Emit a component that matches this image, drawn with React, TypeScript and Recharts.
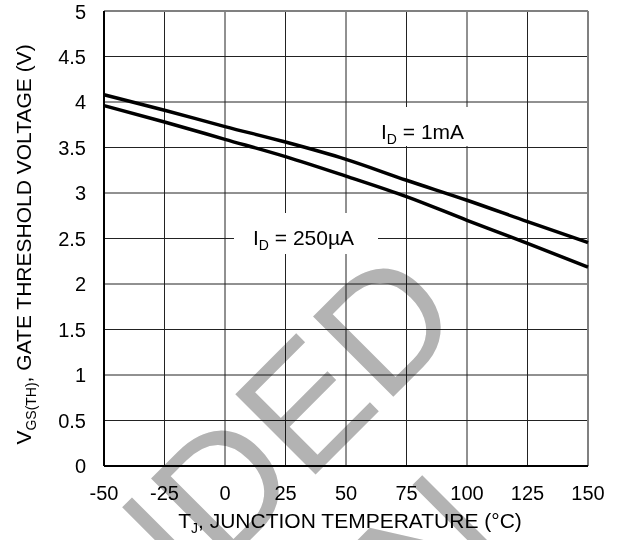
import { LineChart, Line, XAxis, YAxis, CartesianGrid, ReferenceLine } from "recharts";

// junction temperature (°C) and gate threshold voltage (V)
const temps = [-50, -25, 0, 25, 50, 75, 100, 125, 150];
const vth1mA = [4.08, 3.91, 3.73, 3.56, 3.37, 3.14, 2.92, 2.685, 2.455];
const vth250uA = [3.96, 3.78, 3.59, 3.4, 3.185, 2.96, 2.7, 2.447, 2.185];

const xTicks = [-50, -25, 0, 25, 50, 75, 100, 125, 150];
const yTicks = [0, 0.5, 1, 1.5, 2, 2.5, 3, 3.5, 4, 4.5, 5];

const data = temps.map((t, i) => ({ t, a: vth1mA[i], b: vth250uA[i] }));

const FONT = "'Liberation Sans', Arial, Helvetica, sans-serif";
const tickStyle = { fill: "#000", fontSize: 20, fontFamily: FONT };

function CurveLabel({ x, y, rest }: any) {
	return (
		<text x={x} y={y} fill="#000" fontSize={21} fontFamily={FONT}>
			I
			<tspan fontSize={14} dy={5}>D</tspan>
			<tspan dy={-5}>{rest}</tspan>
		</text>
	);
}

function XTitle({ viewBox }: any) {
	const vb = viewBox ?? { x: 104, y: 466, width: 484 };
	return (
		<text x={vb.x + vb.width / 2 + 4} y={vb.y + 62} textAnchor="middle" fill="#000" fontSize={21} fontFamily={FONT}>
			T
			<tspan fontSize={14} dy={5}>J</tspan>
			<tspan dy={-5}>, JUNCTION TEMPERATURE (°C)</tspan>
		</text>
	);
}

function YTitle({ viewBox }: any) {
	const vb = viewBox ?? { x: 0, y: 11, height: 455 };
	const cy = vb.y + vb.height / 2 + 6;
	return (
		<text transform={`translate(31,${cy}) rotate(-90)`} textAnchor="middle" fill="#000" fontSize={21} fontFamily={FONT}>
			V
			<tspan fontSize={14} dy={5}>GS(TH)</tspan>
			<tspan dy={-5}>,  GATE THRESHOLD VOLTAGE (V)</tspan>
		</text>
	);
}

export default function App() {
	return (
		<div style={{ position: "absolute", left: 0, top: 0, width: 624, height: 540, background: "#fff" }}>
			<LineChart width={624} height={540} data={data} margin={{ top: 11, right: 36, left: 0, bottom: 0 }}>
				<CartesianGrid stroke="#222" strokeWidth={1} />
				<XAxis
					dataKey="t"
					type="number"
					domain={[-50, 150]}
					ticks={xTicks}
					height={74}
					tickLine={false}
					tickSize={6}
					tickMargin={14}
					axisLine={{ stroke: "#000", strokeWidth: 2 }}
					tick={tickStyle}
					label={{ content: XTitle }}
				/>
				<YAxis
					type="number"
					domain={[0, 5]}
					ticks={yTicks}
					width={104}
					tickLine={false}
					tickSize={6}
					tickMargin={12}
					axisLine={{ stroke: "#000", strokeWidth: 2 }}
					tick={tickStyle}
					label={{ content: YTitle }}
				/>
				<ReferenceLine y={5} stroke="#808080" strokeWidth={2} />
				<ReferenceLine x={150} stroke="#808080" strokeWidth={2} />
				<Line type="monotone" dataKey="a" stroke="#000" strokeWidth={3.5} dot={false} isAnimationActive={false} />
				<Line type="monotone" dataKey="b" stroke="#000" strokeWidth={3.5} dot={false} isAnimationActive={false} />
			</LineChart>

			{/* watermark, multiplied so the grid and text stay dark through it */}
			<svg width={624} height={540} style={{ position: "absolute", left: 0, top: 0, mixBlendMode: "multiply", pointerEvents: "none" }}>
				<g fill="#b3b3b3" fontFamily={FONT} fontSize={165}>
					<text transform="translate(468,322) rotate(-45)" textAnchor="end">NOT RECOMMENDED</text>
					<text transform="translate(512,546) rotate(-45)" textAnchor="end">FOR NEW DESIGN</text>
				</g>
			</svg>

			{/* curve labels on white patches that break the grid */}
			<svg width={624} height={540} style={{ position: "absolute", left: 0, top: 0, pointerEvents: "none" }}>
				<rect x={372} y={107} width={110} height={39} fill="#fff" />
				<CurveLabel x={381} y={139} rest=" = 1mA" />
				<rect x={234} y={213} width={144} height={41} fill="#fff" />
				<CurveLabel x={253} y={245} rest=" = 250µA" />
			</svg>
		</div>
	);
}
